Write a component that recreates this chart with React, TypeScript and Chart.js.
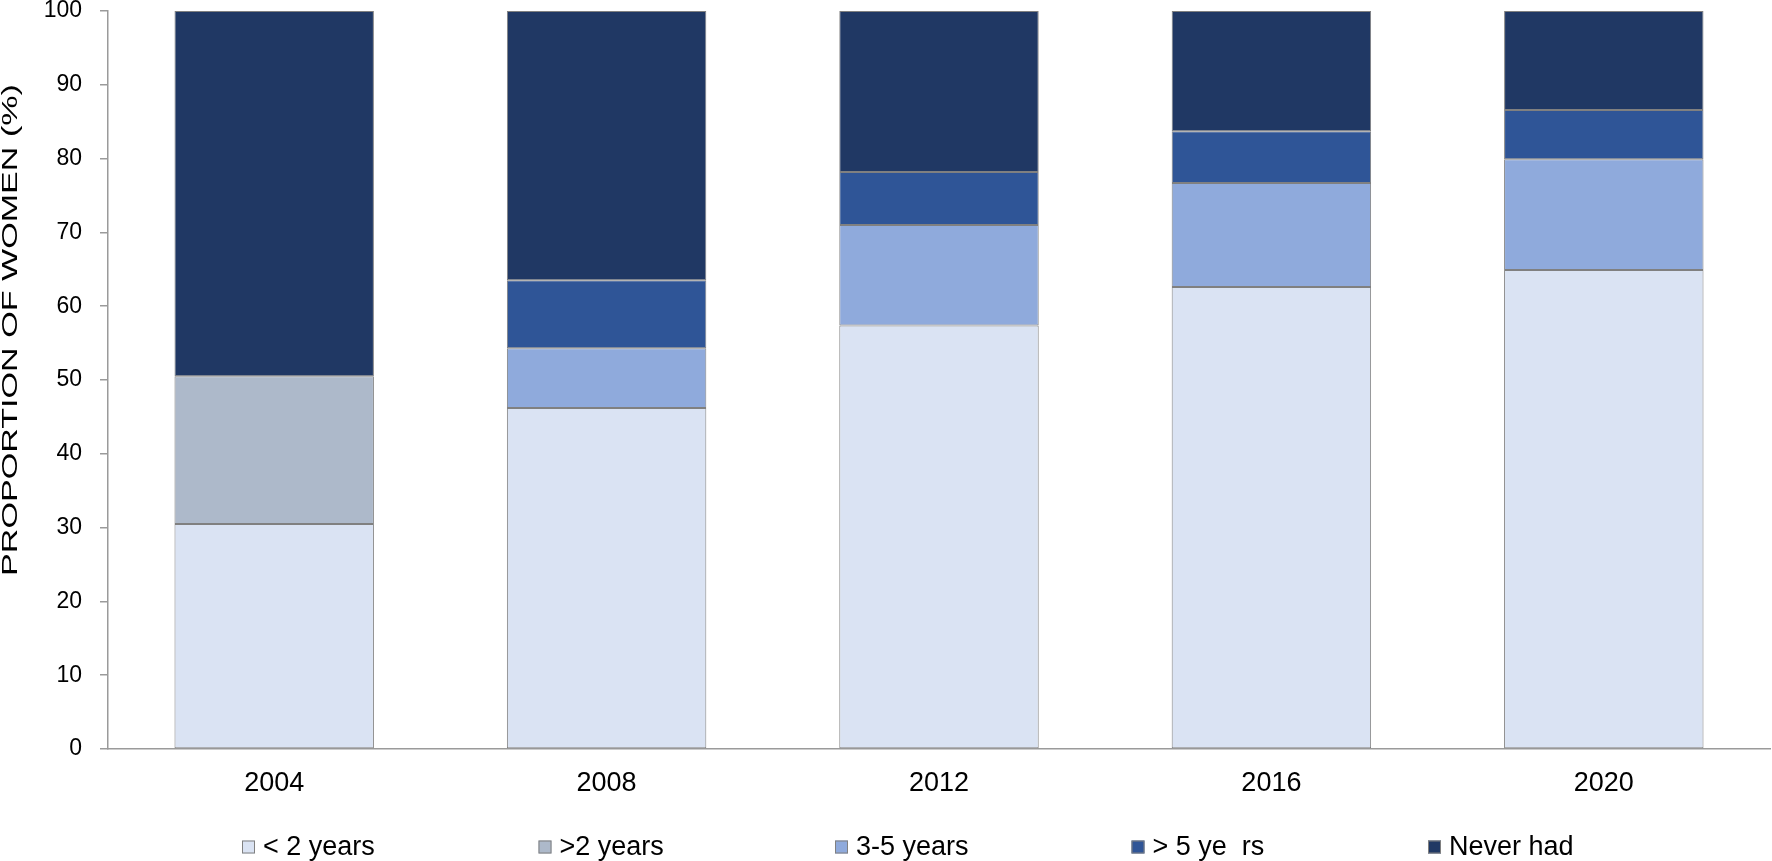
import React, { useEffect, useRef } from "react";
import { Chart, registerables } from "chart.js";

Chart.register(...registerables);

const categories = ["2004", "2008", "2012", "2016", "2020"];
const seriesNames = ["< 2 years", ">2 years", "3-5 years", "> 5 ye  rs", "Never had"];
const lessThan2 = [30.5, 46.2, 57.4, 62.6, 64.9];
const moreThan2 = [20.0, null, null, null, null];
const threeToFive = [null, 8.1, 13.6, 14.1, 15.0];
const moreThan5 = [null, 9.2, 7.2, 7.0, 6.7];
const neverHad = [49.5, 36.5, 21.8, 16.3, 13.4];
const yTicks = [0, 10, 20, 30, 40, 50, 60, 70, 80, 90, 100];
const colors = ["#DAE3F3", "#ADB9CA", "#8FAADC", "#2F5597", "#203864"];
const yTitle = "PROPORTION OF WOMEN (%)";

const FONT = "'Liberation Sans', Arial, sans-serif";

const customDraw = {
  id: "customDraw",
  afterDraw(chart: any) {
    const ctx = chart.ctx;
    ctx.save();
    // y-axis title (stretched along its length like the reference)
    ctx.translate(11, 330);
    ctx.rotate(-Math.PI / 2);
    ctx.scale(1.55, 1);
    ctx.font = `22px ${FONT}`;
    ctx.fillStyle = "#000";
    ctx.textAlign = "center";
    ctx.textBaseline = "middle";
    ctx.fillText(yTitle, 0, 0);
    ctx.restore();

    // legend
    ctx.save();
    const startX = 242;
    const step = 296.5;
    const cy = 847;
    ctx.font = `27px ${FONT}`;
    ctx.textBaseline = "middle";
    ctx.textAlign = "left";
    seriesNames.forEach((name, i) => {
      const x = startX + i * step;
      ctx.fillStyle = colors[i];
      ctx.fillRect(x, cy - 6.5, 13, 13);
      ctx.strokeStyle = "#808080";
      ctx.lineWidth = 1;
      ctx.strokeRect(x + 0.5, cy - 6, 12, 12);
      ctx.fillStyle = "#000";
      ctx.fillText(name, x + 21, cy + 1);
    });
    ctx.restore();
  },
};

export default function App() {
  const ref = useRef<HTMLCanvasElement>(null);
  useEffect(() => {
    document.body.style.margin = "0";
    const seriesData = [lessThan2, moreThan2, threeToFive, moreThan5, neverHad];
    const chart = new Chart(ref.current!, {
      type: "bar",
      data: {
        labels: categories,
        datasets: seriesNames.map((name, i) => ({
          label: name,
          data: seriesData[i] as any,
          backgroundColor: colors[i],
          borderColor: "#808080",
          borderWidth: 1,
          borderSkipped: false,
          barPercentage: 0.6,
          categoryPercentage: 1.0,
        })),
      },
      options: {
        animation: false,
        responsive: false,
        devicePixelRatio: 1,
        layout: { padding: { top: 11, right: 2, left: 0, bottom: 0 } },
        plugins: {
          legend: { display: false },
          tooltip: { enabled: false },
          title: { display: false },
        },
        scales: {
          x: {
            stacked: true,
            grid: { display: false, drawTicks: false },
            border: { color: "#9a9a9a", width: 1.5 },
            ticks: {
              color: "#000",
              font: { family: FONT, size: 27 },
              padding: 18,
            },
            afterFit(scale: any) {
              scale.height = 112;
              scale.paddingLeft = 0;
              scale.paddingRight = 0;
            },
          },
          y: {
            stacked: true,
            min: 0,
            max: 100,
            afterBuildTicks(scale: any) {
              scale.ticks = yTicks.map((v) => ({ value: v }));
            },
            grid: {
              drawOnChartArea: false,
              drawTicks: true,
              tickLength: 8,
              color: "#9a9a9a",
              lineWidth: 1.5,
            },
            border: { color: "#9a9a9a", width: 1.5 },
            ticks: {
              color: "#000",
              font: { family: FONT, size: 23 },
              padding: 18,
            },
            afterFit(scale: any) {
              scale.width = 108;
              scale.paddingTop = 0;
              scale.paddingBottom = 0;
            },
          },
        },
      },
      plugins: [customDraw],
    });
    return () => chart.destroy();
  }, []);
  return (
    <div style={{ position: "absolute", left: 0, top: 0, width: 1772, height: 861 }}>
      <canvas ref={ref} width={1772} height={861} />
    </div>
  );
}
